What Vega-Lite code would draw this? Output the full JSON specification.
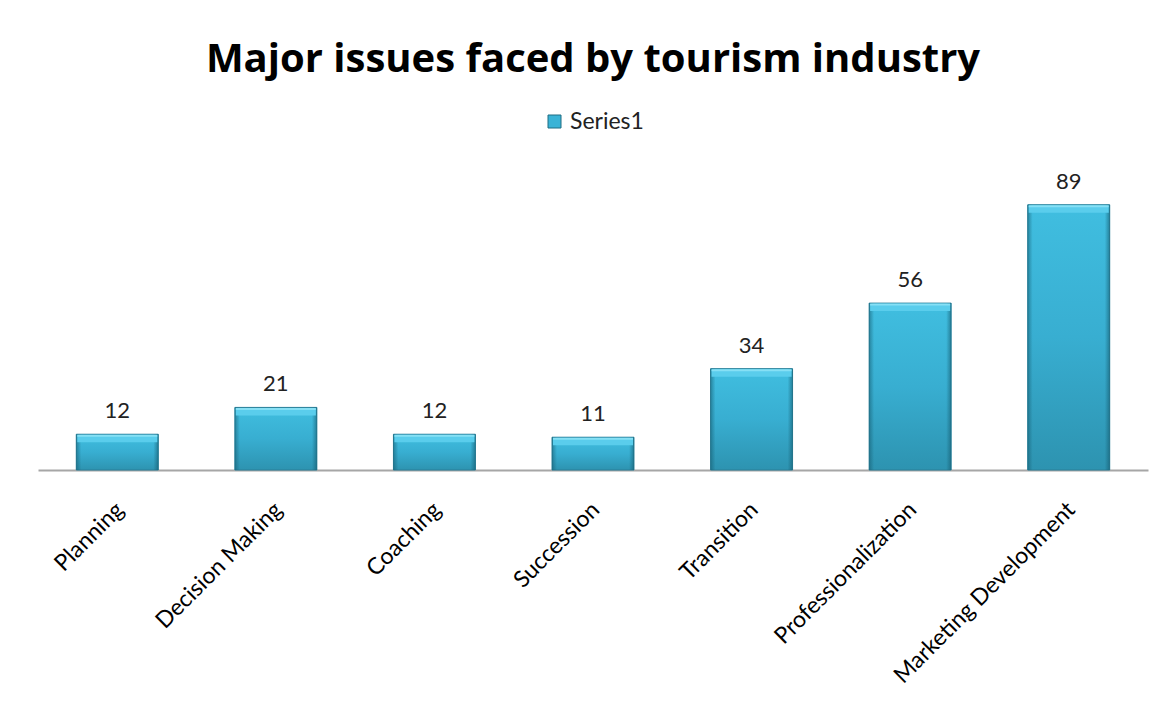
{
  "$schema": "https://vega.github.io/schema/vega-lite/v6.json",
  "width": 1110,
  "height": 298,
  "autosize": {"type": "none"},
  "padding": {"left": 38, "top": 172, "right": 26, "bottom": 247},
  "background": "white",
  "title": {
    "text": "Major issues faced by tourism industry",
    "font": "Open Sans",
    "fontSize": 40,
    "fontWeight": "bold",
    "color": "#000000",
    "anchor": "middle",
    "frame": "group",
    "offset": 30
  },
  "config": {"view": {"stroke": null}},
  "data": {
    "values": [
      {"issue": "Planning", "value": 12, "series": "Series1"},
      {"issue": "Decision Making", "value": 21, "series": "Series1"},
      {"issue": "Coaching", "value": 12, "series": "Series1"},
      {"issue": "Succession", "value": 11, "series": "Series1"},
      {"issue": "Transition", "value": 34, "series": "Series1"},
      {"issue": "Professionalization", "value": 56, "series": "Series1"},
      {"issue": "Marketing Development", "value": 89, "series": "Series1"}
    ]
  },
  "encoding": {
    "x": {
      "field": "issue",
      "type": "nominal",
      "sort": null,
      "scale": {"paddingInner": 0.483, "paddingOuter": 0.2415},
      "axis": {
        "title": null,
        "labelAngle": -45,
        "labelFont": "Lato",
        "labelFontSize": 23,
        "labelColor": "#000000",
        "labelLimit": 0,
        "labelOffset": -5,
        "ticks": false,
        "labelPadding": 28,
        "domainColor": "#A6A6A6",
        "domainWidth": 2
      }
    },
    "y": {
      "field": "value",
      "type": "quantitative",
      "scale": {"domain": [0, 100]},
      "axis": null
    }
  },
  "layer": [
    {
      "mark": {"type": "bar"},
      "encoding": {
        "color": {
          "field": "series",
          "type": "nominal",
          "scale": {"range": ["#3AB3D6"]},
          "legend": {
            "title": null,
            "orient": "none",
            "legendX": 505,
            "legendY": -62,
            "direction": "horizontal",
            "symbolType": "square",
            "symbolSize": 169,
            "symbolStrokeColor": "#1E6C82",
            "symbolStrokeWidth": 1,
            "labelFont": "Lato",
            "labelFontSize": 23,
            "labelColor": "#222222"
          }
        }
      }
    },
    {
      "mark": {
        "type": "bar",
        "stroke": "#2A7F98",
        "strokeWidth": 1,
        "color": {
          "gradient": "linear",
          "x1": 0, "y1": 0, "x2": 0, "y2": 1,
          "stops": [
            {"offset": 0, "color": "#40BEE0"},
            {"offset": 0.5, "color": "#38AED1"},
            {"offset": 1, "color": "#2D93B0"}
          ]
        }
      }
    },
    {
      "mark": {
        "type": "bar",
        "color": {
          "gradient": "linear",
          "x1": 0, "y1": 0, "x2": 1, "y2": 0,
          "stops": [
            {"offset": 0, "color": "rgba(20,90,110,0.55)"},
            {"offset": 0.06, "color": "rgba(20,90,110,0)"},
            {"offset": 0.94, "color": "rgba(20,90,110,0)"},
            {"offset": 1, "color": "rgba(20,90,110,0.6)"}
          ]
        }
      }
    },
    {
      "mark": {
        "type": "tick",
        "orient": "horizontal",
        "thickness": 7,
        "size": 80,
        "yOffset": 4.5,
        "color": "#5ACDEC",
        "opacity": 1
      }
    },
    {
      "mark": {
        "type": "tick",
        "orient": "horizontal",
        "thickness": 2,
        "size": 80,
        "yOffset": 1.5,
        "color": "#86E0F5",
        "opacity": 1
      }
    },
    {
      "mark": {
        "type": "text",
        "font": "Lato",
        "fontSize": 22,
        "color": "#222222",
        "baseline": "alphabetic",
        "dy": -16
      },
      "encoding": {"text": {"field": "value", "type": "quantitative"}}
    }
  ]
}
